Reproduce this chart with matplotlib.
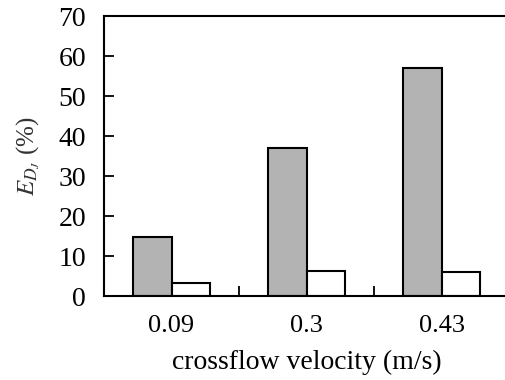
import matplotlib.pyplot as plt
import numpy as np

# data
velocities = ["0.09", "0.3", "0.43"]
gray_vals = [14.7, 37.1, 57.1]
white_vals = [3.3, 6.3, 5.9]

plt.rcParams['font.family'] = ['Liberation Serif', 'DejaVu Serif']
plt.rcParams['mathtext.fontset'] = 'stix'

fig = plt.figure(figsize=(5.05, 3.8), dpi=100)
ax = fig.add_axes([104 / 505, 1 - 296 / 380, 405 / 505, 280 / 380])

x = np.arange(len(velocities))
w = 0.287
ax.bar(x - w / 2, gray_vals, width=w, color='#b3b3b3', edgecolor='black', linewidth=1.5)
ax.bar(x + w / 2, white_vals, width=w, color='white', edgecolor='black', linewidth=1.5)

ax.set_xlim(-0.5, 2.5)
ax.set_ylim(0, 70)
ax.set_yticks(range(0, 71, 10))
ax.set_xticks(x)
ax.set_xticklabels(velocities)
ax.set_xticks([0.5, 1.5], minor=True)

ax.tick_params(axis='y', direction='in', length=7, width=1.3, labelsize=20, pad=13)
ax.tick_params(axis='x', which='major', length=0, labelsize=19, pad=14)
ax.tick_params(axis='x', which='minor', direction='in', length=7, width=1.3)
for s in ax.spines.values():
    s.set_linewidth(1.5)

ax.set_xlabel("crossflow velocity (m/s)", fontsize=20, labelpad=9)
ax.set_ylabel(r"$E_{D_J}$ (%)", fontsize=18, color='#333333', labelpad=12)

fig.savefig("out.png", dpi=100)
